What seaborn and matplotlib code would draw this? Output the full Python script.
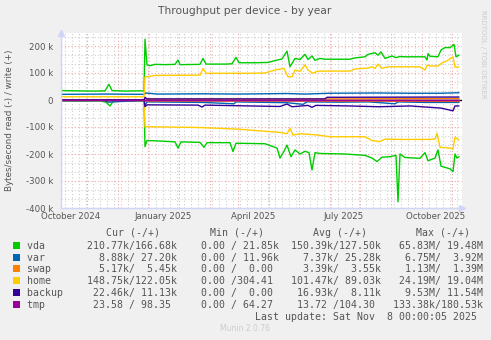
import matplotlib
matplotlib.use("Agg")
import matplotlib.pyplot as plt
import matplotlib.dates as mdates
import matplotlib.patches as mpatches
from matplotlib.ticker import MultipleLocator, FuncFormatter
from matplotlib.transforms import ScaledTranslation
import pandas as pd
import seaborn as sns

# ---------------- data (values in kB/s; read negative, write positive) ----------------
devices = ["vda", "var", "swap", "home", "backup", "tmp"]
colors = ["#00CC00", "#0066B3", "#FF8000", "#FFCC00", "#330099", "#990099"]

vda_read_dates = ["2024-09-05", "2024-09-24", "2024-10-14", "2024-10-20", "2024-10-24", "2024-10-27",
                  "2024-11-08", "2024-11-27", "2024-11-28", "2024-11-30", "2024-12-13", "2024-12-28",
                  "2024-12-31", "2025-01-03", "2025-01-22", "2025-01-26", "2025-01-29", "2025-02-21",
                  "2025-02-24", "2025-02-27", "2025-03-28", "2025-04-09", "2025-04-12", "2025-04-16",
                  "2025-04-19", "2025-04-23", "2025-04-27", "2025-05-02", "2025-05-07", "2025-05-11",
                  "2025-05-14", "2025-05-17", "2025-05-22", "2025-06-16", "2025-07-06", "2025-07-13",
                  "2025-07-18", "2025-07-23", "2025-07-31", "2025-08-06", "2025-08-08", "2025-08-10",
                  "2025-08-15", "2025-08-30", "2025-09-04", "2025-09-07", "2025-09-14", "2025-09-17",
                  "2025-09-20", "2025-09-29", "2025-10-02", "2025-10-04", "2025-10-06", "2025-10-08"]
vda_read = [-3, -4, -3, -8, -22, -6, -3, -3, -173, -150, -152, -155, -178, -155, -157, -175, -158, -158,
            -191, -160, -162, -178, -215, -190, -167, -210, -185, -200, -190, -195, -259, -195, -198,
            -200, -205, -215, -228, -212, -210, -205, -377, -200, -213, -216, -195, -225, -215, -185,
            -245, -255, -265, -200, -215, -210]

vda_write_dates = ["2024-09-05", "2024-09-19", "2024-10-09", "2024-10-19", "2024-10-23", "2024-10-26",
                   "2024-11-08", "2024-11-23", "2024-11-27", "2024-11-28", "2024-11-30", "2024-12-03",
                   "2024-12-08", "2024-12-18", "2024-12-28", "2024-12-31", "2025-01-02", "2025-01-22",
                   "2025-01-25", "2025-01-28", "2025-02-16", "2025-02-23", "2025-02-27", "2025-03-02",
                   "2025-03-18", "2025-03-31", "2025-04-07", "2025-04-14", "2025-04-19", "2025-04-22",
                   "2025-04-27", "2025-05-02", "2025-05-07", "2025-05-10", "2025-05-14", "2025-05-17",
                   "2025-05-22", "2025-05-27", "2025-06-21", "2025-06-26", "2025-07-06", "2025-07-09",
                   "2025-07-16", "2025-07-19", "2025-07-22", "2025-07-26", "2025-08-02", "2025-08-06",
                   "2025-08-10", "2025-08-15", "2025-09-04", "2025-09-06", "2025-09-07", "2025-09-09",
                   "2025-09-17", "2025-09-20", "2025-09-24", "2025-09-29", "2025-10-03", "2025-10-05",
                   "2025-10-08"]
vda_write = [35, 34, 33, 34, 58, 35, 33, 34, 33, 225, 130, 127, 132, 131, 132, 148, 131, 132, 154, 133,
             133, 134, 158, 138, 138, 139, 146, 152, 181, 123, 154, 150, 169, 150, 163, 147, 154, 151,
             151, 156, 160, 169, 175, 166, 178, 154, 163, 157, 161, 160, 160, 148, 172, 162, 160, 185,
             194, 194, 206, 160, 166]

var_read_dates = ["2024-09-05", "2024-10-18", "2024-10-22", "2024-11-27", "2024-11-28", "2024-11-30",
                  "2025-01-25", "2025-02-25", "2025-02-27", "2025-04-19", "2025-05-05", "2025-05-09",
                  "2025-06-10", "2025-07-10", "2025-08-05", "2025-08-08", "2025-09-04", "2025-10-08"]
var_read = [-1, -1, -8, -1, -20, -7, -9, -14, -7, -10, -16, -7, -8, -7, -14, -7, -9, -9]

var_write_dates = ["2024-09-05", "2024-10-20", "2024-11-27", "2024-11-29", "2024-12-10", "2025-01-25",
                   "2025-03-01", "2025-04-19", "2025-05-07", "2025-06-01", "2025-07-19", "2025-08-20",
                   "2025-09-20", "2025-10-08"]
var_write = [21, 22, 21, 26, 22, 23, 22, 24, 22, 25, 26, 25, 25, 27]

swap_read_dates = ["2024-09-05", "2024-11-27", "2024-11-30", "2025-05-01", "2025-10-08"]
swap_read = [-0.5, -0.5, -3.5, -3.5, -5.2]
swap_write_dates = ["2024-09-05", "2024-11-27", "2024-11-30", "2025-05-01", "2025-10-08"]
swap_write = [0.5, 0.5, 3.6, 3.6, 5.4]

home_read_dates = ["2024-09-05", "2024-11-27", "2024-11-28", "2024-11-30", "2025-01-22", "2025-03-01",
                   "2025-04-12", "2025-04-19", "2025-04-22", "2025-04-25", "2025-05-02", "2025-05-14",
                   "2025-05-20", "2025-06-01", "2025-07-06", "2025-07-13", "2025-07-21", "2025-07-26",
                   "2025-08-10", "2025-09-04", "2025-09-14", "2025-09-16", "2025-09-19", "2025-09-29",
                   "2025-10-02", "2025-10-04", "2025-10-08"]
home_read = [-1, -1, -100, -99, -102, -108, -120, -125, -105, -130, -125, -128, -130, -136, -136, -150,
             -154, -145, -146, -146, -145, -123, -175, -178, -182, -138, -148]

home_write_dates = ["2024-09-05", "2024-11-27", "2024-11-28", "2024-11-30", "2024-12-08", "2025-01-22",
                    "2025-01-25", "2025-01-28", "2025-03-08", "2025-03-28", "2025-04-07", "2025-04-16",
                    "2025-04-20", "2025-04-24", "2025-04-27", "2025-05-02", "2025-05-07", "2025-05-10",
                    "2025-05-15", "2025-05-19", "2025-05-24", "2025-06-21", "2025-06-26", "2025-07-09",
                    "2025-07-13", "2025-07-16", "2025-07-19", "2025-07-23", "2025-07-29", "2025-08-30",
                    "2025-09-04", "2025-09-06", "2025-09-09", "2025-09-17", "2025-09-21", "2025-09-26",
                    "2025-10-02", "2025-10-04", "2025-10-08"]
home_write = [12, 12, 85, 86, 91, 92, 117, 99, 99, 100, 111, 117, 86, 86, 111, 106, 130, 111, 99, 106,
              107, 107, 115, 118, 123, 117, 133, 117, 123, 123, 111, 129, 126, 126, 137, 145, 160, 122,
              122]

backup_read_dates = ["2024-09-05", "2024-11-27", "2024-11-28", "2024-11-30", "2025-01-20", "2025-01-24",
                     "2025-01-27", "2025-04-12", "2025-04-19", "2025-04-24", "2025-05-10", "2025-05-14",
                     "2025-05-18", "2025-06-20", "2025-07-20", "2025-08-20", "2025-09-20", "2025-10-02",
                     "2025-10-04", "2025-10-08"]
backup_read = [0, 0, -25, -18, -19, -26, -19, -24, -15, -25, -20, -27, -20, -22, -25, -22, -30, -40,
               -22, -22]
backup_write_dates = ["2024-09-05", "2024-11-27", "2024-11-28", "2024-11-30", "2025-05-27", "2025-05-29",
                      "2025-10-08"]
backup_write = [0, 0, 10, 4, 4, 10, 11]

tmp_read_dates = ["2024-09-05", "2025-10-08"]
tmp_read = [-0.02, -0.02]
tmp_write_dates = ["2024-09-05", "2025-10-08"]
tmp_write = [0.1, 0.1]

# legend table values
cur_read = ["210.77k", "8.88k", "5.17k", "148.75k", "22.46k", "23.58"]
cur_write = ["166.68k", "27.20k", "5.45k", "122.05k", "11.13k", "98.35"]
min_read = ["0.00", "0.00", "0.00", "0.00", "0.00", "0.00"]
min_write = ["21.85k", "11.96k", "0.00", "304.41", "0.00", "64.27"]
avg_read = ["150.39k", "7.37k", "3.39k", "101.47k", "16.93k", "13.72"]
avg_write = ["127.50k", "25.28k", "3.55k", "89.03k", "8.11k", "104.30"]
max_read = ["65.83M", "6.75M", "1.13M", "24.19M", "9.53M", "133.38k"]
max_write = ["19.48M", "3.92M", "1.39M", "19.04M", "11.54M", "180.53k"]

y_ticks = [-400, -300, -200, -100, 0, 100, 200]
x_label_months = [1, 4, 7, 10]

title = "Throughput per device - by year"
ylabel = "Bytes/second read (-) / write (+)"
last_update = "Last update: Sat Nov  8 00:00:05 2025"
footer = "Munin 2.0.76"
watermark = "RRDTOOL / TOBI OETIKER"

# ---------------- figure ----------------
sns.set_theme(style="white")
plt.rcParams["font.family"] = ["DejaVu Sans"]
TXT = "#555555"
W, H = 491, 340

fig = plt.figure(figsize=(W / 100, H / 100), dpi=100, facecolor="#F0F0F0")
ax = fig.add_axes([61 / W, 1 - 208 / H, (462 - 61) / W, (208 - 32.5) / H])
ax.set_facecolor("white")

series = [
    (vda_read_dates, vda_read, vda_write_dates, vda_write),
    (var_read_dates, var_read, var_write_dates, var_write),
    (swap_read_dates, swap_read, swap_write_dates, swap_write),
    (home_read_dates, home_read, home_write_dates, home_write),
    (backup_read_dates, backup_read, backup_write_dates, backup_write),
    (tmp_read_dates, tmp_read, tmp_write_dates, tmp_write),
]

ax.axhline(0, color="black", lw=1.0, zorder=1.5)
for (rd, rv, wd, wv), col in zip(series, colors):
    for d, v in ((rd, rv), (wd, wv)):
        df = pd.DataFrame({"date": pd.to_datetime(d), "value": v})
        sns.lineplot(data=df, x="date", y="value", color=col, lw=1.0, ax=ax,
                     estimator=None, sort=False, zorder=2)

ax.set_xlim(pd.Timestamp("2024-09-05"), pd.Timestamp("2025-10-11"))
ax.set_ylim(-400, 250)
ax.set_xlabel("")
ax.set_ylabel("")

ax.xaxis.set_major_locator(mdates.MonthLocator())
ax.xaxis.set_minor_locator(mdates.WeekdayLocator(byweekday=mdates.MO))
ax.xaxis.set_major_formatter(FuncFormatter(
    lambda v, p: mdates.num2date(v).strftime("%B %Y") if mdates.num2date(v).month in x_label_months else ""))
ax.set_yticks(y_ticks)
ax.yaxis.set_minor_locator(MultipleLocator(100 / 3))
ax.yaxis.set_major_formatter(FuncFormatter(lambda v, p: "0" if abs(v) < 1e-9 else f"{int(round(v))} k"))

ax.grid(which="minor", color="#CFCFCF", linestyle=(0, (1, 2)), lw=0.8, zorder=0)
ax.grid(which="major", color="#F2A6A6", linestyle=(0, (1, 2)), lw=0.8, zorder=0.5)
ax.set_axisbelow(True)

ax.tick_params(axis="both", which="both", length=0, colors=TXT, labelsize=6.2)
ax.tick_params(axis="y", pad=5.5)
ax.tick_params(axis="x", pad=3)
for lab in ax.get_xticklabels():
    lab.set_transform(lab.get_transform() + ScaledTranslation(-16 / 100, 0, fig.dpi_scale_trans))

for s in ("top", "right"):
    ax.spines[s].set_visible(False)
for s in ("left", "bottom"):
    ax.spines[s].set_color("#CFD6F8")
    ax.spines[s].set_linewidth(1.0)
ax.plot([0], [1.0], marker="^", color="#CFD6F8", ms=4, transform=ax.transAxes, clip_on=False)
ax.plot([1.0], [0], marker=">", color="#CFD6F8", ms=4, transform=ax.transAxes, clip_on=False)

# titles
fig.text(245 / W, 1 - 11 / H, title, ha="center", va="center", fontsize=7.7, color=TXT)
fig.text(10 / W, 1 - 120 / H, ylabel, ha="center", va="center", rotation=90, fontsize=6.3, color=TXT)
fig.text(483 / W, 1 - 54 / H, watermark, ha="center", va="center", rotation=270, fontsize=5,
         color="#CCCCCC")

# legend table
MONO = ["DejaVu Sans Mono"]
LFS = 7.1


def fmt(s):
    num = s.rstrip("kM")
    unit = s[len(num):] or " "
    return f"{num:>6}{unit}"


def pair(a, b):
    return fmt(a) + "/" + fmt(b)


for hx, h in zip([132.7, 236.7, 340, 443], ["Cur (-/+)", "Min (-/+)", "Avg (-/+)", "Max (-/+)"]):
    fig.text(hx / W, 1 - 235.9 / H, h, ha="center", va="baseline", fontsize=LFS, family=MONO, color=TXT)

row_y = [245, 257, 268.9, 280.8, 292.7, 304.6]
for i, name in enumerate(devices):
    row = (f"{name:<10}{pair(cur_read[i], cur_write[i])}  {pair(min_read[i], min_write[i])}  "
           f"{pair(avg_read[i], avg_write[i])}  {pair(max_read[i], max_write[i])}")
    fig.text(26.7 / W, 1 - (row_y[i] + 3.6) / H, row, ha="left", va="baseline", fontsize=LFS,
             family=MONO, color=TXT)
    fig.patches.append(mpatches.Rectangle((12.7 / W, 1 - (row_y[i] + 3.5) / H), 7 / W, 7 / H,
                                          transform=fig.transFigure, facecolor=colors[i],
                                          edgecolor="none"))

fig.text(476.7 / W, 1 - 320.3 / H, last_update, ha="right", va="baseline", fontsize=LFS, family=MONO,
         color=TXT)
fig.text(245 / W, 1 - 328.3 / H, footer, ha="center", va="center", fontsize=5.5, color="#CCCCCC")

fig.savefig("out.png", dpi=100, facecolor=fig.get_facecolor())
